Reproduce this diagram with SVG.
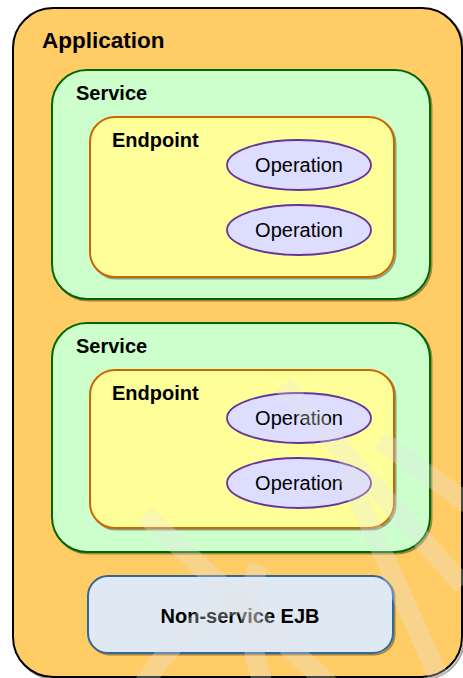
<svg xmlns="http://www.w3.org/2000/svg" width="463" height="678" viewBox="0 0 463 678">
<style>
text{font-family:"Liberation Sans",Arial,sans-serif;fill:#000}
.lbl{font-weight:bold;font-size:20px}
.op{font-size:20px;text-anchor:middle}
.sh{fill:none;stroke:#000;stroke-opacity:.35;stroke-width:2}
.app{fill:#FFCC66;stroke:#000;stroke-width:2}
.svc{fill:#CCFFCC;stroke:#006600;stroke-width:2}
.ep{fill:#FFFF99;stroke:#CC6600;stroke-width:2}
.opn{fill:#DDDDFF;stroke:#663399;stroke-width:1.8}
.ejb{fill:#DFE9F4;stroke:#336699;stroke-width:2}
.wm{fill:none;stroke:#E4E4E4;stroke-opacity:.3;stroke-width:20}
</style>
<rect width="463" height="678" fill="#fff"/>
<g id="application">
<rect class="sh" x="15" y="10" width="449" height="669" rx="40"/>
<rect class="app" x="13" y="8" width="449" height="669" rx="40"/>
<text x="42" y="48" style="font-weight:bold;font-size:22.5px">Application</text>
</g>
<g id="service1">
<rect class="sh" x="53.5" y="71.5" width="378" height="229" rx="35"/>
<rect class="svc" x="52" y="70" width="378" height="229" rx="35"/>
<text class="lbl" x="76" y="100">Service</text>
</g>
<g id="endpoint1">
<rect class="sh" x="91.5" y="118.5" width="304" height="160" rx="25"/>
<rect class="ep" x="90" y="117" width="304" height="160" rx="25"/>
<text class="lbl" x="112" y="147">Endpoint</text>
</g>
<g id="operation1a">
<ellipse class="opn" cx="299" cy="165" rx="72" ry="25"/>
<text class="op" x="299" y="172">Operation</text>
</g>
<g id="operation1b">
<ellipse class="opn" cx="299" cy="230" rx="72" ry="25"/>
<text class="op" x="299" y="237">Operation</text>
</g>
<g id="service2">
<rect class="sh" x="53.5" y="324.5" width="378" height="229" rx="35"/>
<rect class="svc" x="52" y="323" width="378" height="229" rx="35"/>
<text class="lbl" x="76" y="353">Service</text>
</g>
<g id="endpoint2">
<rect class="sh" x="91.5" y="371.5" width="304" height="158" rx="25"/>
<rect class="ep" x="90" y="370" width="304" height="158" rx="25"/>
<text class="lbl" x="112" y="400">Endpoint</text>
</g>
<g id="operation2a">
<ellipse class="opn" cx="299" cy="418" rx="72" ry="25"/>
<text class="op" x="299" y="425">Operation</text>
</g>
<g id="operation2b">
<ellipse class="opn" cx="299" cy="483" rx="72" ry="25"/>
<text class="op" x="299" y="490">Operation</text>
</g>
<g id="ejb">
<rect class="sh" x="89.5" y="577.5" width="305" height="77" rx="20"/>
<rect class="ejb" x="88" y="576" width="305" height="77" rx="20"/>
<text class="lbl" x="240" y="623" text-anchor="middle">Non-service EJB</text>
</g>
<g id="connectors"/>
<g id="watermark">
<path class="wm" d="M283,385 L463,585"/>
<path class="wm" d="M380,440 L470,505"/>
<path class="wm" d="M345,470 L440,680"/>
<path class="wm" d="M145,515 L335,690"/>
<path class="wm" d="M140,690 Q190,610 250,600"/>
<path class="wm" d="M258,565 Q240,620 265,690"/>
</g>
</svg>
